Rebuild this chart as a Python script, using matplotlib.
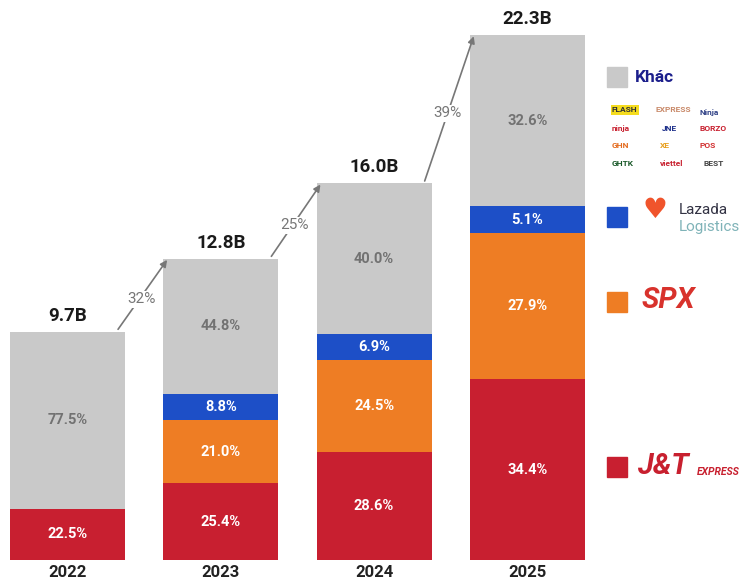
import matplotlib
matplotlib.use("Agg")
import matplotlib.pyplot as plt
import numpy as np

years = ["2022", "2023", "2024", "2025"]
totals = [9.7, 12.8, 16.0, 22.3]
jt = [22.5, 25.4, 28.6, 34.4]
spx = [0.0, 21.0, 24.5, 27.9]
lazada = [0.0, 8.8, 6.9, 5.1]
khac = [77.5, 44.8, 40.0, 32.6]
growth = ["32%", "25%", "39%"]

C_GRAY = "#c9c9c9"
C_BLUE = "#1d4fc7"
C_ORANGE = "#ee7d24"
C_RED = "#c81f30"

plt.rcParams['font.family'] = ['Roboto', 'DejaVu Sans']

fig = plt.figure(figsize=(7.5, 5.83), dpi=100)
ax = fig.add_axes([0, 0, 1, 1])
ax.set_xlim(-0.44, 4.452)
ax.set_ylim(-0.977, 23.79)
ax.axis("off")

x = np.arange(len(years))
w = 0.75
series = [(jt, C_RED, "white"), (spx, C_ORANGE, "white"),
          (lazada, C_BLUE, "white"), (khac, C_GRAY, "#727272")]
bottom = np.zeros(len(years))
for vals, col, tcol in series:
    h = np.array(vals) / 100.0 * np.array(totals)
    ax.bar(x, h, w, bottom=bottom, color=col, edgecolor="none")
    for i in range(len(years)):
        if vals[i] > 0:
            ax.text(x[i], bottom[i] + h[i] / 2, f"{vals[i]:.1f}%", ha="center", va="center",
                    color=tcol, fontsize=10.5, fontweight="bold")
    bottom = bottom + h

for i in range(len(years)):
    ax.text(x[i], totals[i] + 0.3, f"{totals[i]:.1f}B", ha="center", va="bottom",
            fontsize=13.5, fontweight="bold", color="#1a1a1a")
    ax.text(x[i], -0.55, years[i], ha="center", va="center", fontsize=12,
            fontweight="bold", color="#222222")

for i, g in enumerate(growth):
    x0, y0 = i + 0.33, totals[i] + 0.1
    x1, y1 = i + 1 - 0.35, totals[i + 1] - 0.05
    ax.annotate("", xy=(x1, y1), xytext=(x0, y0),
                arrowprops=dict(arrowstyle="-|>", color="#777777", lw=1.2,
                                mutation_scale=10, shrinkA=0, shrinkB=0))
    ax.text((x0 + x1) / 2 - 0.01, (y0 + y1) / 2 - 0.2, g, ha="center", va="center",
            fontsize=11, color="#777777",
            bbox=dict(boxstyle="square,pad=0.1", fc="white", ec="none"))

# Legend (custom, in figure pixel coordinates)
def px(xp, yp):
    return (xp / 750.0, 1 - yp / 583.0)

def square(xc, yc, col):
    s = 20
    fig.patches.append(plt.Rectangle(px(xc - s / 2, yc + s / 2), s / 750, s / 583,
                                     transform=fig.transFigure, color=col))

square(617, 77, C_GRAY)
fig.text(*px(635, 77), "Khác", fontsize=12.5, fontweight="bold", color="#1c1f8c", va="center")
logos = [("FLASH", 612, 110, "#333333", "#f5dc1e"), ("EXPRESS", 655, 110, "#c98a6a", None),
         ("Ninja", 700, 112, "#334488", None), ("ninja", 612, 128, "#c8202f", None),
         ("JNE", 662, 128, "#1d2f8a", None), ("BORZO", 700, 128, "#c8202f", None),
         ("GHN", 612, 145, "#e46b1e", None), ("XE", 660, 145, "#e8a020", None),
         ("POS", 700, 145, "#d23030", None), ("GHTK", 612, 163, "#1a5a2a", None),
         ("viettel", 660, 163, "#c8202f", None), ("BEST", 703, 163, "#444444", None)]
for t, xp, yp, col, bg in logos:
    kw = {}
    if bg:
        kw["bbox"] = dict(boxstyle="square,pad=0.15", fc=bg, ec="none")
    fig.text(*px(xp, yp), t, fontsize=6, fontweight="bold", color=col, va="center", **kw)

square(617, 217, C_BLUE)
fig.text(*px(643, 210), "♥", fontsize=20, color="#f0542c", va="center", ha="left",
         family=['DejaVu Sans'])
fig.text(*px(679, 210), "Lazada", fontsize=11, color="#333344", va="center")
fig.text(*px(679, 227), "Logistics", fontsize=11, color="#7fb3b8", va="center")

square(617, 302, C_ORANGE)
fig.text(*px(642, 300), "SPX", fontsize=21, fontweight="bold", style="italic",
         color="#d8322c", va="center")

square(617, 467, C_RED)
fig.text(*px(637, 466), "J&T", fontsize=21, fontweight="bold", style="italic",
         color="#c8202f", va="center")
fig.text(*px(697, 472), "EXPRESS", fontsize=7.5, fontweight="bold", style="italic",
         color="#c8202f", va="center")

fig.savefig("out.png", dpi=100)
